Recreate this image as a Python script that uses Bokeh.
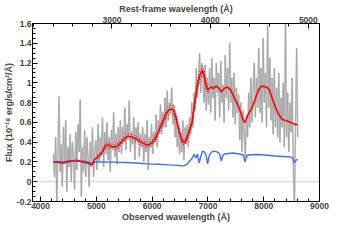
import numpy as np
from bokeh.plotting import figure
from bokeh.models import Range1d, LinearAxis, SingleIntervalTicker, CustomJSTickFormatter, Span
from bokeh.embed import file_html
from bokeh.resources import INLINE

# ---------------- data ----------------
redshift = 0.76
x_lo, x_hi = 3855, 9000
y_lo, y_hi = -0.2, 1.6

# observed spectrum (grey), sampled every 20 A from 4230 A
gray_start, gray_step = 4230, 20
gray_flux = [
    0.28, 0.05, 0.45, -0.22, 0.30, 0.86, 0.10, 0.38, -0.05, 0.55, 0.20, 0.62, -0.10, 0.35, 0.15, 0.48, 0.00, 0.40, 0.25, -0.08,
    0.50, 0.12, 0.58, 0.30, 0.83, -0.15, 0.35, 0.10, 0.52, 0.05, 0.45, 0.25, -0.05, 0.40, 0.15, 0.55, 0.05, 0.30, 0.42, 0.12,
    0.58, 0.20, 0.45, 0.32, 0.65, 0.15, 0.50, 0.28, 0.60, 0.22, 0.45, 0.10, 0.52, 0.35, 0.70, 0.25, 0.48, 0.18, 0.55, 0.30,
    0.62, 0.28, 0.55, 0.40, 0.75, 0.32, 0.58, 0.45, 0.82, 0.30, 0.50, 0.38, 0.65, 0.22, 0.55, 0.42, 0.60, 0.25, 0.48, 0.35,
    0.55, 0.20, 0.48, 0.30, 0.62, 0.12, 0.45, 0.35, 0.58, 0.28, 0.50, 0.40, 0.68, 0.35, 0.62, 0.50, 0.78, 0.48, 0.70, 0.55,
    0.85, 0.55, 0.92, 0.62, 0.80, 0.70, 0.95, 0.58, 0.78, 0.45, 0.68, 0.35, 0.55, 0.28, 0.50, 0.30, 0.62, 0.22, 0.55, 0.38,
    0.58, 0.35, 0.65, 0.48, 0.80, 0.55, 0.90, 0.72, 1.15, 0.85, 1.05, 1.30, 0.90, 1.20, 1.00, 0.80, 1.18, 0.72, 1.05, 0.78,
    1.15, 0.70, 1.25, 0.85, 1.05, 0.62, 1.20, 0.90, 1.10, 0.65, 1.22, 0.80, 0.98, 0.60, 1.28, 0.85, 1.15, 0.72, 1.40, 0.80,
    1.05, 0.65, 1.10, 0.58, 0.95, 0.70, 0.88, 0.42, 0.80, 0.30, 0.72, 0.50, 0.25, 0.68, 0.45, 0.90, 0.55, 1.05, 0.60, 0.95,
    1.20, 0.65, 1.05, 0.75, 1.35, 0.70, 1.15, 0.60, 1.45, 0.80, 1.10, 0.55, 1.58, 0.75, 1.25, 0.62, 1.05, 0.48, 1.15, 0.55,
    0.95, 0.45, 1.10, 0.40, 0.85, 0.55, 1.00, 0.35, 1.70, 0.45, 0.90, 0.30, 0.80, 0.50, 1.05, 0.20, -0.30, 0.55, 1.35, 0.45,
]

# smoothed model (red)
red_wl = [4230, 4300, 4380, 4420, 4470, 4560, 4680, 4760, 4840, 4900,
          4930, 4960, 5020, 5080, 5130, 5170, 5210, 5250, 5300, 5350,
          5400, 5460, 5520, 5570, 5620, 5690, 5750, 5810, 5870, 5930,
          5990, 6050, 6110, 6170, 6230, 6290, 6340, 6390, 6440, 6490,
          6540, 6570, 6610, 6660, 6715, 6760, 6806, 6850, 6903, 6935,
          6965, 7000, 7025, 7060, 7100, 7147, 7190, 7239, 7290, 7340,
          7390, 7440, 7490, 7542, 7600, 7640, 7664, 7700, 7740, 7786,
          7850, 7907, 7950, 7998, 8050, 8090, 8150, 8211, 8270, 8333,
          8400, 8440, 8485, 8520, 8555, 8580, 8600]
red_flux = [0.20, 0.20, 0.19, 0.19, 0.20, 0.21, 0.21, 0.20, 0.19, 0.175,
            0.175, 0.22, 0.25, 0.28, 0.33, 0.365, 0.375, 0.36, 0.35, 0.355,
            0.37, 0.41, 0.445, 0.46, 0.455, 0.44, 0.42, 0.40, 0.38, 0.37,
            0.39, 0.43, 0.50, 0.58, 0.66, 0.72, 0.74, 0.72, 0.62, 0.50,
            0.41, 0.395, 0.42, 0.50, 0.60, 0.78, 0.96, 1.07, 1.13, 1.07,
            0.97, 0.93, 0.94, 0.96, 0.94, 0.97, 0.95, 0.91, 0.94, 0.96,
            0.94, 0.89, 0.83, 0.77, 0.68, 0.61, 0.60, 0.65, 0.70, 0.74,
            0.84, 0.93, 0.96, 0.965, 0.955, 0.94, 0.85, 0.75, 0.68, 0.63,
            0.62, 0.61, 0.60, 0.59, 0.58, 0.575, 0.585]
red_err = [0, 0, 0, 0, 0, 0, 0, 0, 0, 0,
           0, 0, 0.02, 0.02, 0.025, 0.025, 0.025, 0.025, 0.025, 0.025,
           0.025, 0.025, 0.025, 0.025, 0.025, 0.025, 0.025, 0.025, 0.025, 0.025,
           0.025, 0.025, 0.03, 0.03, 0.035, 0.04, 0.04, 0.04, 0.035, 0.03,
           0.025, 0.025, 0.025, 0.03, 0.03, 0.035, 0.04, 0.04, 0.04, 0.04,
           0.035, 0.03, 0.03, 0, 0, 0, 0, 0, 0, 0,
           0, 0, 0, 0, 0, 0, 0, 0, 0, 0,
           0, 0, 0, 0, 0, 0, 0, 0, 0, 0,
           0, 0, 0, 0, 0, 0, 0]

# stellar template (blue)
blue_wl = [4230, 4300, 4400, 4500, 4600, 4653, 4700, 4800, 4870, 4900,
           4930, 4960, 5100, 5300, 5500, 5700, 5900, 6113, 6300, 6450,
           6509, 6569, 6630, 6691, 6720, 6751, 6782, 6812, 6843, 6870,
           6903, 6940, 6970, 6995, 7020, 7060, 7116, 7170, 7210, 7239,
           7270, 7299, 7451, 7600, 7633, 7664, 7690, 7713, 7907, 8211,
           8485, 8520, 8545, 8570, 8600]
blue_flux = [0.20, 0.205, 0.20, 0.21, 0.215, 0.22, 0.21, 0.205, 0.20, 0.18,
             0.19, 0.20, 0.20, 0.198, 0.195, 0.19, 0.18, 0.177, 0.17, 0.165,
             0.162, 0.16, 0.18, 0.22, 0.24, 0.276, 0.24, 0.28, 0.19, 0.25,
             0.31, 0.30, 0.26, 0.18, 0.26, 0.30, 0.31, 0.30, 0.28, 0.21,
             0.27, 0.28, 0.29, 0.275, 0.27, 0.20, 0.25, 0.27, 0.275, 0.26,
             0.25, 0.24, 0.19, 0.21, 0.23]

x_major, x_minor = 1000, 5
rest_major, rest_minor = 1000, 5
y_major, y_minor = 0.2, 4

# ---------------- figure ----------------
FONT = "Liberation Sans"
p = figure(width=339, height=224, output_backend="svg", toolbar_location=None,
           x_range=Range1d(x_lo, x_hi), y_range=Range1d(y_lo, y_hi),
           min_border_left=0, min_border_right=20, min_border_top=0, min_border_bottom=0)
p.background_fill_color = "white"
p.border_fill_color = "white"
p.outline_line_color = "black"
p.outline_line_width = 1
p.grid.visible = False

bottom = p.below[0]
left = p.left[0]

gray_wl = np.arange(len(gray_flux)) * gray_step + gray_start
p.line(gray_wl, gray_flux, color="#d6d6d6", line_width=1.8)
p.line(gray_wl, gray_flux, color="#a3a3a3", line_width=0.9)

p.add_layout(Span(location=0, dimension="width", line_color="#999999",
                  line_dash="2 2", line_width=0.8))

p.line(blue_wl, blue_flux, color="#3f6fff", line_width=1.4)

rw = np.array(red_wl, dtype=float)
rf = np.array(red_flux)
re = np.array(red_err)
m = re > 0
p.line(rw, rf, color="#ff0000", line_width=1.6)
p.line(rw[m], rf[m] + re[m], color="#ff0000", line_width=1.1, line_dash="1 2")
p.line(rw[m], rf[m] - re[m], color="#ff0000", line_width=1.1, line_dash="1 2")

p.extra_x_ranges = {"rest": Range1d(x_lo / (1 + redshift), x_hi / (1 + redshift))}
top = LinearAxis(x_range_name="rest", axis_label="Rest-frame wavelength (Å)",
                 ticker=SingleIntervalTicker(interval=rest_major, num_minor_ticks=rest_minor))
p.add_layout(top, "above")

bottom.ticker = SingleIntervalTicker(interval=x_major, num_minor_ticks=x_minor)
bottom.axis_label = "Observed wavelength (Å)"
left.ticker = SingleIntervalTicker(interval=y_major, num_minor_ticks=y_minor)
left.axis_label = "Flux (10⁻¹⁸ erg/s/cm²/Å)"
left.formatter = CustomJSTickFormatter(code="return String(Math.round(tick*100)/100);")

for ax in [bottom, left, top]:
    ax.axis_line_color = "black"
    ax.major_tick_in = 5
    ax.major_tick_out = 0
    ax.minor_tick_in = 3
    ax.minor_tick_out = 0
    ax.major_tick_line_color = "black"
    ax.minor_tick_line_color = "black"
    ax.major_label_text_font = FONT
    ax.major_label_text_font_style = "bold"
    ax.major_label_text_font_size = "8.5px"
    ax.axis_label_text_font = FONT
    ax.axis_label_text_font_style = "bold"
    ax.axis_label_text_font_size = "9px"
    ax.major_label_standoff = 1
    ax.axis_label_standoff = 0

open("out.html", "w").write(file_html(p, INLINE))
